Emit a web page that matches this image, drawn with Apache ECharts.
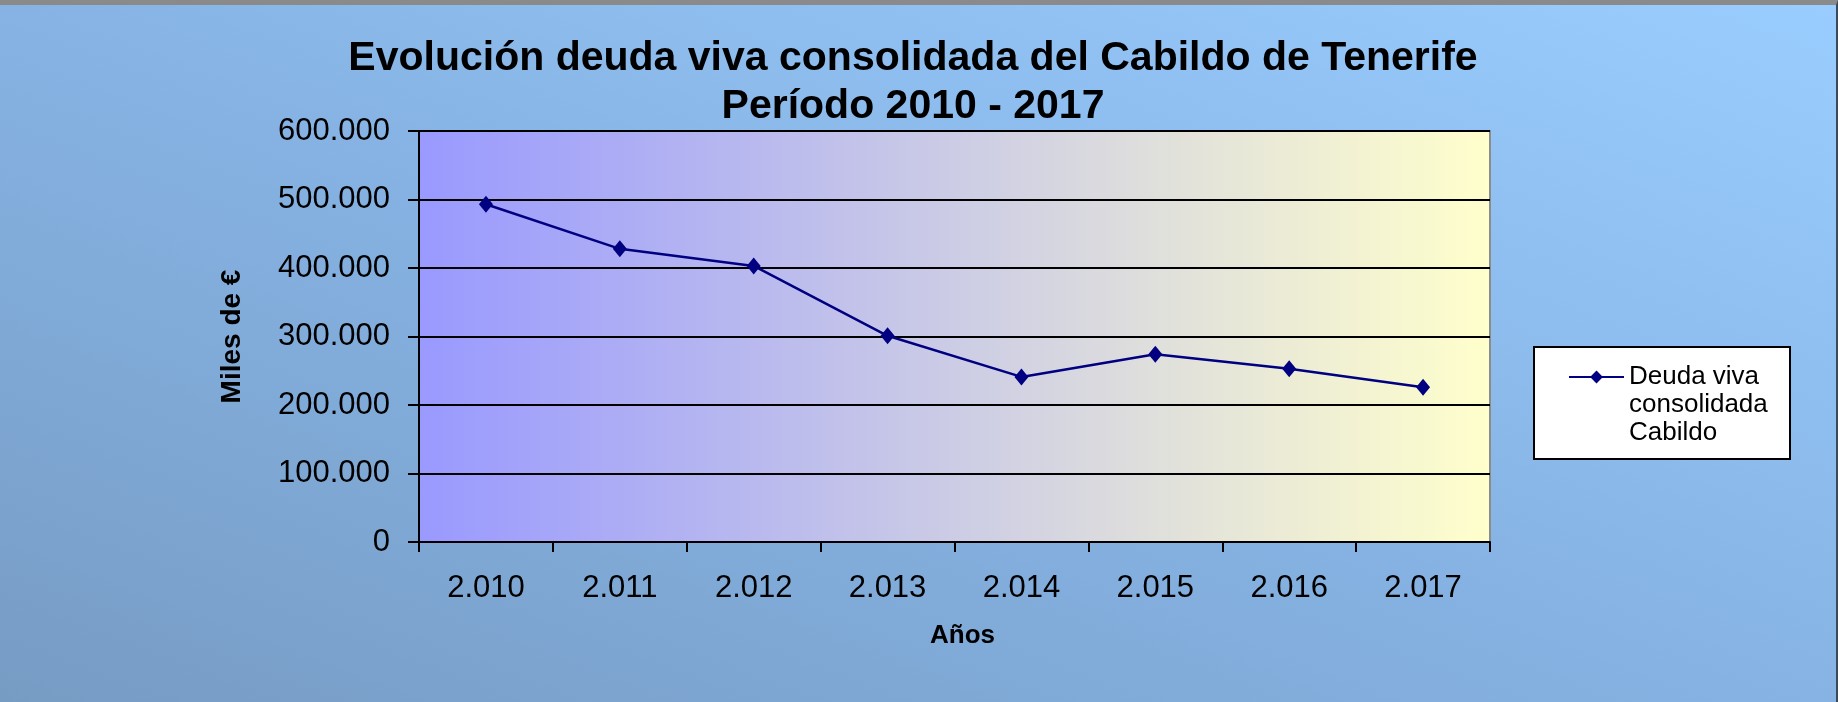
<!DOCTYPE html>
<html lang="es">
<head>
    <meta charset="UTF-8">
    <title>Evolución deuda viva consolidada</title>
    <script src="https://cdn.jsdelivr.net/npm/echarts@6/dist/echarts.min.js" type="text/javascript"></script>
    <style>
        html, body { margin: 0; padding: 0; }
        #deuda {
            width: 1838px; height: 702px; box-sizing: border-box;
            border-top: 5px solid #8a8a8a; border-right: 2px solid #3a4a5a;
            background: linear-gradient(to top right, #779cc4 0%, #86b3e4 50%, #9acdff 100%);
        }
    </style>
</head>
<body>
<div id="deuda"></div>
</body>

<script type="text/javascript">
    // datos (miles de €)
    var anios = ['2.010', '2.011', '2.012', '2.013', '2.014', '2.015', '2.016', '2.017'];
    var deudaViva = [493000, 428000, 403000, 301000, 241000, 274000, 253000, 226000];
    var serieNombre = 'Deuda viva consolidada Cabildo';

    var fuente = '"Liberation Sans", Arial, sans-serif';
    var chart = echarts.init(document.getElementById('deuda'));

    function miles(v) {
        return String(v).replace(/\B(?=(\d{3})+(?!\d))/g, '.');
    }

    chart.setOption({
        animation: false,
        title: {
            text: 'Evolución deuda viva consolidada del Cabildo de Tenerife\nPeríodo 2010 - 2017',
            left: 908,
            top: 25,
            textAlign: 'center',
            textStyle: {
                fontFamily: fuente,
                fontSize: 41,
                fontWeight: 'bold',
                lineHeight: 48,
                color: '#000'
            }
        },
        graphic: [{
            type: 'rect',
            z: 0,
            shape: {x: 1534, y: 342, width: 256, height: 112},
            style: {fill: '#fff', stroke: '#000', lineWidth: 2}
        }],
        legend: {
            data: [serieNombre],
            left: 1568,
            top: 302,
            padding: 0,
            itemWidth: 55,
            itemHeight: 16,
            // dos líneas vacías arriba para que el icono quede junto a la primera línea
            formatter: function () {
                return '\n\nDeuda viva\nconsolidada\nCabildo';
            },
            textStyle: {
                fontFamily: fuente,
                fontSize: 26,
                lineHeight: 28,
                color: '#000'
            }
        },
        grid: {
            left: 419,
            right: 346,
            top: 126,
            bottom: 160,
            show: true,
            borderColor: '#8c8c8c',
            borderWidth: 2,
            backgroundColor: {
                type: 'linear', x: 0, y: 0, x2: 1, y2: 0,
                colorStops: [{offset: 0, color: '#9999ff'}, {offset: 1, color: '#ffffcc'}]
            }
        },
        xAxis: {
            type: 'category',
            data: anios,
            boundaryGap: true,
            name: 'Años',
            nameLocation: 'middle',
            nameGap: 81,
            nameTextStyle: {fontFamily: fuente, fontSize: 26, fontWeight: 'bold', color: '#000', padding: [0, 0, 0, 16]},
            axisLine: {lineStyle: {color: '#000', width: 2}},
            axisTick: {show: true, length: 10, lineStyle: {color: '#000', width: 2}},
            axisLabel: {fontFamily: fuente, fontSize: 31, color: '#000', margin: 31}
        },
        yAxis: {
            type: 'value',
            min: 0,
            max: 600000,
            interval: 100000,
            name: 'Miles de €',
            nameLocation: 'middle',
            nameGap: 173,
            nameTextStyle: {fontFamily: fuente, fontSize: 28, fontWeight: 'bold', color: '#000'},
            axisLine: {show: true, lineStyle: {color: '#000', width: 2}},
            axisTick: {show: true, length: 11, lineStyle: {color: '#000', width: 2}},
            axisLabel: {fontFamily: fuente, fontSize: 31, color: '#000', margin: 29, formatter: miles},
            splitLine: {lineStyle: {color: '#000', width: 2}}
        },
        series: [{
            name: serieNombre,
            type: 'line',
            data: deudaViva,
            symbol: 'diamond',
            symbolSize: [14, 17],
            lineStyle: {color: '#000080', width: 2.5},
            itemStyle: {color: '#000080'}
        }]
    });
</script>
</html>
